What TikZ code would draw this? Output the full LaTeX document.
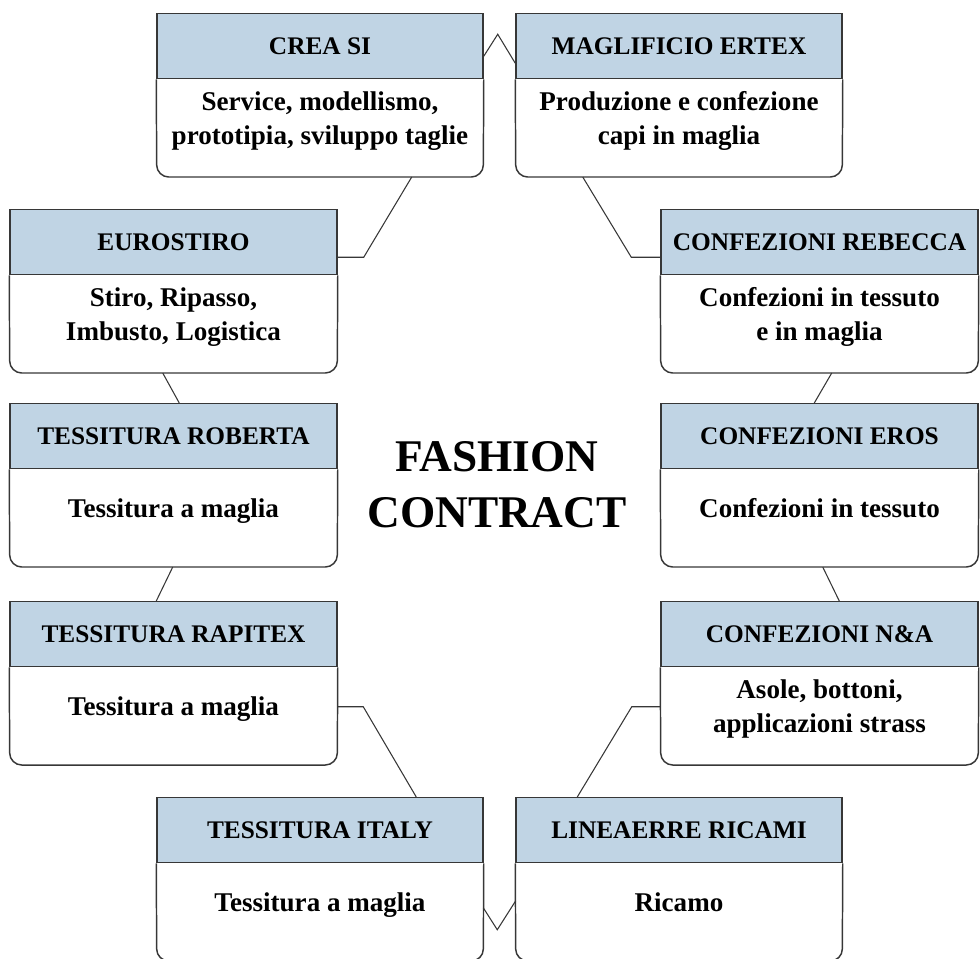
\documentclass[tikz,border=0pt]{standalone}
\usepackage{fontspec}
\setmainfont{Liberation Serif}
\usetikzlibrary{positioning, calc}
\definecolor{headblue}{RGB}{192,212,228}
\definecolor{linegray}{RGB}{55,55,55}
\tikzset{
  head/.style={draw=linegray, line width=1.1pt, fill=headblue, minimum width=#1, minimum height=48.75pt, inner sep=2pt, font=\bfseries\fontsize{19}{22}\selectfont},
  body/.style={minimum width=#1, minimum height=72.75pt, inner sep=2pt, align=center, text depth=15pt, font=\bfseries\fontsize{20.3}{25.5}\selectfont},
  outline/.style={draw=linegray, line width=1.1pt, rounded corners=9pt},
  link/.style={draw=linegray, line width=0.8pt},
  title/.style={align=center, font=\bfseries\fontsize{34}{42}\selectfont},
}

\begin{document}
\begin{tikzpicture}[x=0.75pt, y=-0.75pt]
    \useasboundingbox (0,0) rectangle (980,958);
    % top row
    \node[head=244.5pt, anchor=north] (crea) at (320,13) {CREA SI};
    \node[body=244.5pt, below=0pt of crea] (crea-b) {Service, modellismo,\\prototipia, sviluppo taglie};
    \node[head=244.5pt, anchor=north] (ertex) at (679,13) {MAGLIFICIO ERTEX};
    \node[body=244.5pt, below=0pt of ertex] (ertex-b) {Produzione e confezione\\capi in maglia};
    % left column
    \node[head=245.25pt, anchor=north] (euro) at (173.5,209) {EUROSTIRO};
    \node[body=245.25pt, below=0pt of euro] (euro-b) {Stiro, Ripasso,\\Imbusto, Logistica};
    \node[head=245.25pt, anchor=north] (roberta) at (173.5,403) {TESSITURA ROBERTA};
    \node[body=245.25pt, below=0pt of roberta] (roberta-b) {Tessitura a maglia};
    \node[head=245.25pt, anchor=north] (rapitex) at (173.5,601) {TESSITURA RAPITEX};
    \node[body=245.25pt, below=0pt of rapitex] (rapitex-b) {Tessitura a maglia};
    % right column
    \node[head=237.75pt, anchor=north] (rebecca) at (819.5,209) {CONFEZIONI REBECCA};
    \node[body=237.75pt, below=0pt of rebecca] (rebecca-b) {Confezioni in tessuto\\e in maglia};
    \node[head=237.75pt, anchor=north] (eros) at (819.5,403) {CONFEZIONI EROS};
    \node[body=237.75pt, below=0pt of eros] (eros-b) {Confezioni in tessuto};
    \node[head=237.75pt, anchor=north] (na) at (819.5,601) {CONFEZIONI N\&A};
    \node[body=237.75pt, below=0pt of na] (na-b) {Asole, bottoni,\\applicazioni strass};
    % bottom row
    \node[head=244.5pt, anchor=north] (italy) at (320,797) {TESSITURA ITALY};
    \node[body=244.5pt, below=0pt of italy] (italy-b) {Tessitura a maglia};
    \node[head=244.5pt, anchor=north] (lin) at (679,797) {LINEAERRE RICAMI};
    \node[body=244.5pt, below=0pt of lin] (lin-b) {Ricamo};

    \foreach \b in {crea,ertex,euro,roberta,rapitex,rebecca,eros,na,italy,lin}
      \draw[outline] (\b.south west) -- (\b-b.south west) -- (\b-b.south east) -- (\b.south east);

    \node[title] (fc) at (497,485) {FASHION\\CONTRACT};

    % links around the ring
    \draw[link] ($(crea.east)+(0,10)$) -- ($(crea.east)+(14,-12)$) -- ($(ertex.west)+(0,17)$);
    \draw[link] ($(crea-b.south west)+(255,0)$) -- ($(euro.east)+(26,15)$) -- ($(euro.east)+(0,15)$);
    \draw[link] ($(ertex-b.south west)+(67,0)$) -- ($(rebecca.west)+(-29,15)$) -- ($(rebecca.west)+(0,15)$);
    \draw[link] ($(euro-b.south west)+(153,0)$) -- ($(roberta.north west)+(170,0)$);
    \draw[link] ($(roberta-b.south west)+(163,0)$) -- ($(rapitex.north west)+(147,0)$);
    \draw[link] ($(rapitex-b.east)+(0,-9.5)$) -- ($(rapitex-b.east)+(26,-9.5)$) -- ($(italy.north west)+(260,0)$);
    \draw[link] ($(italy-b.east)+(0,-4.5)$) -- ($(italy-b.east)+(14,17.5)$) -- ($(lin-b.west)+(0,-11.5)$);
    \draw[link] ($(lin.north west)+(62,0)$) -- ($(na-b.west)+(-29,-9.5)$) -- ($(na-b.west)+(0,-9.5)$);
    \draw[link] ($(rebecca-b.south west)+(171,0)$) -- ($(eros.north west)+(154,0)$);
    \draw[link] ($(eros-b.south west)+(162,0)$) -- ($(na.north west)+(179,0)$);
\end{tikzpicture}
\end{document}
